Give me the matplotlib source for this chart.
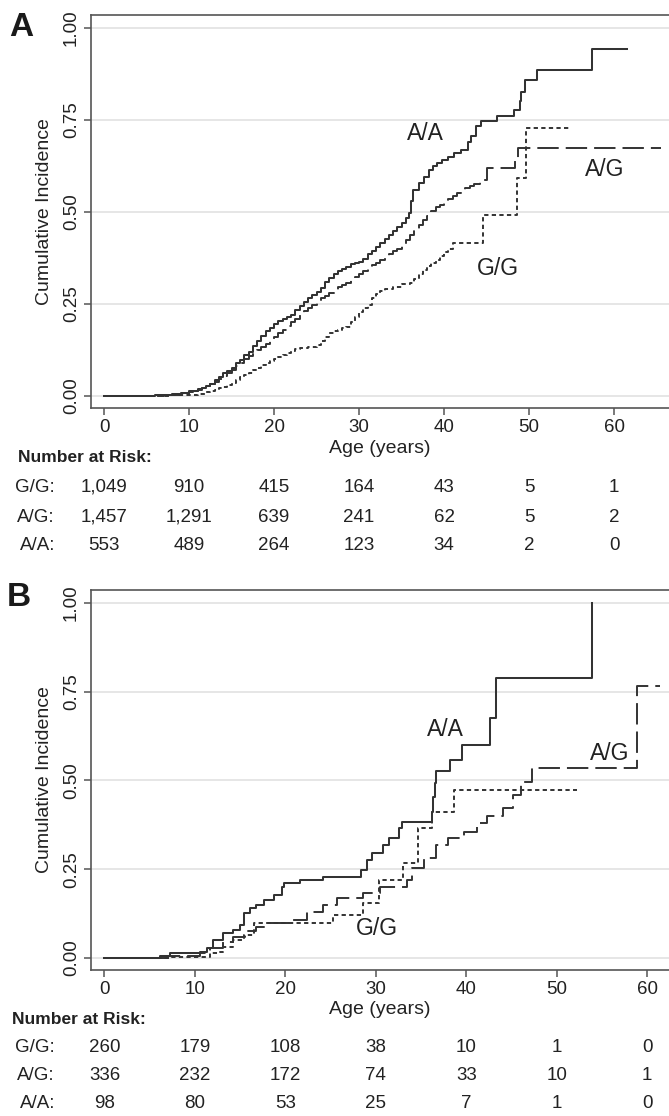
import matplotlib
matplotlib.use('Agg')
import matplotlib.pyplot as plt
from matplotlib.transforms import blended_transform_factory

plt.rcParams['font.family'] = ['Liberation Sans', 'DejaVu Sans']

W, H = 669, 1116
LINE = '#333333'
SPINE = '#555555'

# ---- panel A: cumulative incidence ----
a_aa_age = [0, 6, 8, 9, 10, 10.5, 11, 11.5, 12, 12.5, 13, 13.5, 14, 14.5, 15, 15.5, 16, 16.5,
            17, 17.5, 18, 18.5, 19, 19.5, 20, 20.5, 21, 21.5, 22, 22.5, 23, 23.5, 24, 24.5,
            25, 25.5, 26, 26.5, 27, 27.5, 28, 28.5, 29, 29.5, 30, 30.5, 31, 31.5, 32, 32.5,
            33, 33.5, 34, 34.5, 35, 35.5, 35.9, 36.1, 36.4, 37, 37.6, 38.2, 38.7, 39.2, 39.8,
            40.5, 41.2, 42, 42.8, 43.2, 43.8, 44.4, 46.2, 48.2, 48.9, 49.1, 49.5, 50.9, 57.4, 61.5]
a_aa_ci = [0, 0.002, 0.004, 0.007, 0.012, 0.014, 0.018, 0.022, 0.027, 0.033, 0.042, 0.052, 0.062,
           0.068, 0.075, 0.088, 0.098, 0.11, 0.12, 0.135, 0.15, 0.162, 0.175, 0.185, 0.195, 0.203,
           0.208, 0.214, 0.22, 0.232, 0.245, 0.255, 0.265, 0.274, 0.283, 0.292, 0.31, 0.32, 0.33,
           0.338, 0.345, 0.351, 0.357, 0.362, 0.365, 0.372, 0.385, 0.395, 0.405, 0.415, 0.425,
           0.437, 0.448, 0.46, 0.47, 0.483, 0.496, 0.53, 0.56, 0.578, 0.595, 0.614, 0.625, 0.632,
           0.64, 0.65, 0.66, 0.668, 0.69, 0.705, 0.732, 0.746, 0.76, 0.777, 0.80, 0.827, 0.859,
           0.886, 0.942, 0.942]

a_ag_age = [0, 7, 9, 10, 10.5, 11, 11.5, 12, 12.5, 13, 13.5, 14, 14.5, 15, 15.5, 16, 16.5, 17,
            17.5, 18, 18.5, 19, 19.5, 20, 20.5, 21, 21.5, 22, 22.5, 23, 23.5, 24, 24.5, 25, 25.5,
            26, 26.5, 27, 27.5, 28, 28.5, 29, 29.5, 30, 30.5, 31, 31.5, 32, 32.5, 33, 33.5, 34,
            34.5, 35, 35.5, 36, 36.5, 37, 37.5, 38, 38.5, 39, 39.5, 40, 40.5, 41, 41.5, 42, 42.5,
            43, 43.5, 44.2, 45, 48.3, 48.7, 65.5]
a_ag_ci = [0, 0.002, 0.006, 0.01, 0.013, 0.017, 0.021, 0.026, 0.032, 0.038, 0.045, 0.053, 0.062,
           0.07, 0.08, 0.09, 0.1, 0.108, 0.116, 0.125, 0.133, 0.141, 0.15, 0.16, 0.17, 0.18, 0.19,
           0.2, 0.21, 0.22, 0.23, 0.238, 0.248, 0.258, 0.266, 0.272, 0.28, 0.288, 0.295, 0.302,
           0.308, 0.315, 0.322, 0.33, 0.34, 0.347, 0.355, 0.362, 0.37, 0.378, 0.385, 0.393, 0.4,
           0.41, 0.423, 0.438, 0.452, 0.465, 0.478, 0.49, 0.503, 0.512, 0.52, 0.528, 0.535, 0.542,
           0.55, 0.558, 0.565, 0.57, 0.576, 0.587, 0.619, 0.646, 0.673, 0.673]

a_gg_age = [0, 8, 10, 11, 12, 12.5, 13, 13.5, 14, 14.5, 15, 15.5, 16, 16.5, 17, 17.5, 18, 18.5,
            19, 19.5, 20, 20.5, 21, 21.5, 22, 22.5, 23, 24, 25, 25.5, 26, 26.5, 27, 27.5, 28, 28.5,
            29, 29.5, 30, 30.5, 31, 31.5, 32, 32.5, 33, 34, 35, 36, 36.5, 37, 37.5, 38, 38.5, 39,
            39.5, 40, 40.5, 41.1, 44.6, 48.6, 49.7, 54.8]
a_gg_ci = [0, 0.001, 0.003, 0.006, 0.01, 0.013, 0.016, 0.02, 0.025, 0.03, 0.035, 0.043, 0.05,
           0.056, 0.062, 0.07, 0.077, 0.084, 0.09, 0.095, 0.1, 0.106, 0.112, 0.117, 0.122, 0.126,
           0.13, 0.133, 0.138, 0.148, 0.16, 0.17, 0.175, 0.18, 0.184, 0.188, 0.2, 0.215, 0.228,
           0.238, 0.248, 0.265, 0.278, 0.285, 0.29, 0.297, 0.303, 0.308, 0.318, 0.33, 0.342, 0.352,
           0.36, 0.37, 0.38, 0.39, 0.4, 0.415, 0.492, 0.592, 0.727, 0.727]

# ---- panel B ----
b_aa_age = [0, 6.1, 7.2, 10.6, 11.3, 12, 13.1, 14.2, 15, 15.4, 16.1, 16.8, 17.6, 18.7, 19.6, 19.8,
            21.6, 24.2, 28.3, 29.0, 29.6, 30.8, 31.5, 32.5, 32.9, 36.2, 36.35, 36.5, 36.7, 38.2,
            39.5, 42.6, 43.3, 53.9]
b_aa_ci = [0, 0.006, 0.013, 0.018, 0.028, 0.051, 0.07, 0.079, 0.093, 0.126, 0.14, 0.149, 0.163,
           0.177, 0.2, 0.21, 0.22, 0.229, 0.248, 0.276, 0.295, 0.318, 0.337, 0.365, 0.384, 0.412,
           0.454, 0.492, 0.525, 0.558, 0.6, 0.675, 0.788, 1.0]

b_ag_age = [0, 7, 10.6, 11.7, 13.1, 14.2, 15.5, 16.8, 17.9, 20.5, 22.4, 24.2, 25.7, 28.6, 30.5,
            33.4, 34, 35.3, 36.7, 38, 39.7, 41.2, 42.3, 44.1, 45.2, 46, 47.3, 58.9, 61.4]
b_ag_ci = [0, 0.005, 0.013, 0.028, 0.046, 0.06, 0.075, 0.088, 0.098, 0.107, 0.13, 0.149, 0.168,
           0.182, 0.2, 0.22, 0.253, 0.28, 0.318, 0.337, 0.355, 0.38, 0.4, 0.423, 0.46, 0.495,
           0.534, 0.766, 0.766]

b_gg_age = [0, 7.5, 11.7, 12.8, 13.1, 14.2, 15.4, 16.5, 25.3, 28.6, 30.3, 33, 34.7, 36.2, 38.6, 52.2]
b_gg_ci = [0, 0.004, 0.013, 0.018, 0.032, 0.051, 0.065, 0.098, 0.121, 0.154, 0.22, 0.267, 0.365,
           0.412, 0.473, 0.473]

x_ticks = [0, 10, 20, 30, 40, 50, 60]
y_ticks = [0.0, 0.25, 0.5, 0.75, 1.0]
genotypes = ['G/G:', 'A/G:', 'A/A:']

a_risk_gg = ['1,049', '910', '415', '164', '43', '5', '1']
a_risk_ag = ['1,457', '1,291', '639', '241', '62', '5', '2']
a_risk_aa = ['553', '489', '264', '123', '34', '2', '0']

b_risk_gg = ['260', '179', '108', '38', '10', '1', '0']
b_risk_ag = ['336', '232', '172', '74', '33', '10', '1']
b_risk_aa = ['98', '80', '53', '25', '7', '1', '0']


def fy(px):
    return 1 - px / H


def make_panel(fig, top, bottom, xlim, ylim):
    ax = fig.add_axes([91 / W, fy(bottom), 1 - 91 / W, (bottom - top) / H])
    ax.set_xlim(*xlim)
    ax.set_ylim(*ylim)
    ax.spines['right'].set_visible(False)
    for s in ['left', 'bottom', 'top']:
        ax.spines[s].set_color(SPINE)
        ax.spines[s].set_linewidth(1.2)
    ax.set_xticks(x_ticks)
    ax.set_yticks(y_ticks)
    ax.set_yticklabels(['%.2f' % v for v in y_ticks])
    ax.tick_params(axis='x', length=5, width=1.1, color=SPINE, labelsize=13.5, pad=3,
                   labelcolor='#222222')
    ax.tick_params(axis='y', length=5, width=1.1, color=SPINE, labelsize=13.5, pad=3,
                   labelcolor='#222222')
    for lbl in ax.get_yticklabels():
        lbl.set_rotation(90)
        lbl.set_va('center')
    ax.grid(axis='y', color='#e4e4e4', linewidth=1.3)
    ax.set_axisbelow(True)
    fig.text(45 / W, fy((top + bottom) / 2), 'Cumulative Incidence', rotation=90,
             ha='center', va='center', fontsize=14, color='#222222')
    return ax


def draw_curves(ax, aa, ag, gg):
    ax.step(aa[0], aa[1], where='post', color=LINE, lw=1.45)
    ax.step(ag[0], ag[1], where='post', color=LINE, lw=1.4, linestyle=(0, (11, 3.6)))
    ax.step(gg[0], gg[1], where='post', color=LINE, lw=1.4, linestyle=(0, (2.2, 1.7)))


def risk_table(fig, ax, label_y, age_y, rows_y, rows, nar_x):
    tr = blended_transform_factory(ax.transData, fig.transFigure)
    fig.text(380 / W, fy(age_y), 'Age (years)', ha='center', va='center', fontsize=14,
             color='#222222')
    fig.text(nar_x / W, fy(label_y), 'Number at Risk:', ha='left', va='center',
             fontsize=12.5, fontweight='bold', color='#222222')
    for name, y, vals in zip(genotypes, rows_y, rows):
        fig.text(55 / W, fy(y), name, ha='right', va='center', fontsize=13.5, color='#222222')
        for xv, v in zip(x_ticks, vals):
            ax.text(xv, fy(y), v, transform=tr, ha='center', va='center', fontsize=13.5,
                    color='#222222', clip_on=False)


if __name__ == '__main__':
    fig = plt.figure(figsize=(W / 100, H / 100), dpi=100)

    axA = make_panel(fig, 15, 408, (-1.53, 66.47), (-0.033, 1.035))
    draw_curves(axA, (a_aa_age, a_aa_ci), (a_ag_age, a_ag_ci), (a_gg_age, a_gg_ci))
    axA.text(37.8, 0.714, 'A/A', ha='center', va='center', fontsize=16.5, color='#222222')
    axA.text(58.9, 0.614, 'A/G', ha='center', va='center', fontsize=16.5, color='#222222')
    axA.text(46.4, 0.347, 'G/G', ha='center', va='center', fontsize=16.5, color='#222222')
    risk_table(fig, axA, 458, 449, [487, 517, 546], [a_risk_gg, a_risk_ag, a_risk_aa], 18)

    axB = make_panel(fig, 590, 970, (-1.49, 62.4), (-0.034, 1.036))
    draw_curves(axB, (b_aa_age, b_aa_ci), (b_ag_age, b_ag_ci), (b_gg_age, b_gg_ci))
    axB.text(37.7, 0.642, 'A/A', ha='center', va='center', fontsize=16.5, color='#222222')
    axB.text(55.9, 0.577, 'A/G', ha='center', va='center', fontsize=16.5, color='#222222')
    axB.text(30.1, 0.084, 'G/G', ha='center', va='center', fontsize=16.5, color='#222222')
    risk_table(fig, axB, 1019, 1010, [1047, 1075, 1103], [b_risk_gg, b_risk_ag, b_risk_aa], 12)

    fig.text(21 / W, fy(27), 'A', ha='center', va='center', fontsize=24, fontweight='bold',
             color='#1a1a1a')
    fig.text(19 / W, fy(598), 'B', ha='center', va='center', fontsize=24, fontweight='bold',
             color='#1a1a1a')

    fig.savefig('out.png', dpi=100)
